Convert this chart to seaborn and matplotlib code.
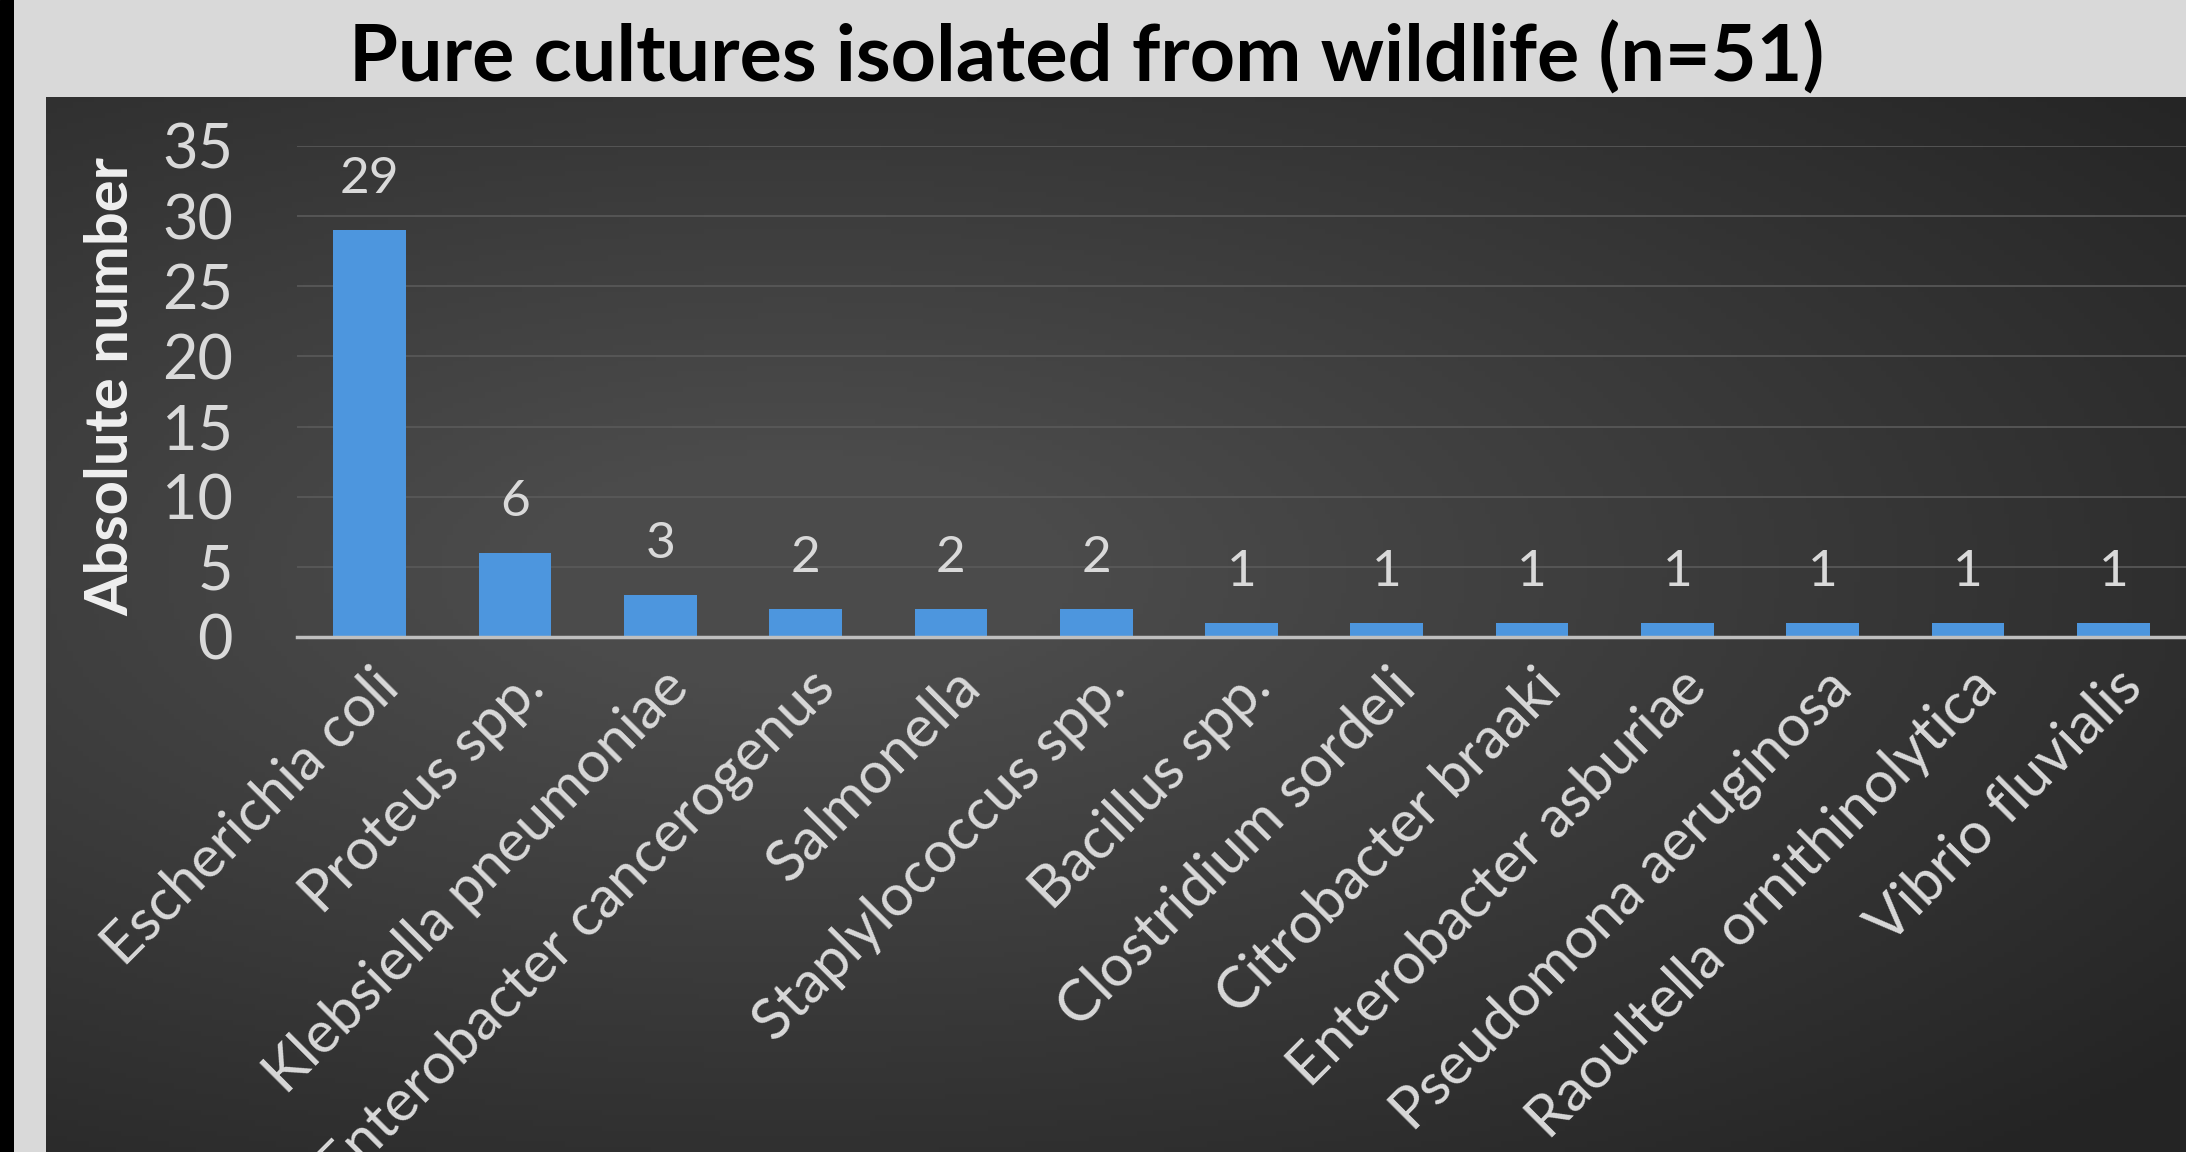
import numpy as np
import pandas as pd
import matplotlib
matplotlib.use("Agg")
import matplotlib.pyplot as plt
import matplotlib.transforms as mtransforms
from matplotlib.colors import LinearSegmentedColormap
import seaborn as sns

species = [
    "Escherichia coli", "Proteus spp.", "Klebsiella pneumoniae",
    "Enterobacter cancerogenus", "Salmonella", "Staplylococcus spp.",
    "Bacillus spp.", "Clostridium sordeli", "Citrobacter braaki",
    "Enterobacter asburiae", "Pseudomona aeruginosa",
    "Raoultella ornithinolytica", "Vibrio fluvialis",
]
counts = [29, 6, 3, 2, 2, 2, 1, 1, 1, 1, 1, 1, 1]
y_ticks = [0, 5, 10, 15, 20, 25, 30, 35]

df = pd.DataFrame({"species": species, "count": counts})

sns.set_theme(style="dark")
plt.rcParams["font.family"] = ["Lato", "DejaVu Sans"]

W, H = 2186, 1152
fig = plt.figure(figsize=(W / 100, H / 100), dpi=100, facecolor="#d9d9d9")

# black strip on the far left
strip = fig.add_axes([0, 0, 14 / W, 1])
strip.set_axis_off()
strip.add_patch(plt.Rectangle((0, 0), 1, 1, color="black", transform=strip.transAxes))

# dark panel with soft radial gradient
px0, py1 = 46 / W, 97 / H
bg = fig.add_axes([px0, 0, 1 - px0, 1 - py1])
gx, gy = np.meshgrid(np.linspace(0, 1, 400), np.linspace(0, 1, 200))
r = np.sqrt(((gx - 0.35) / 0.85) ** 2 + ((gy - 0.45) / 0.75) ** 2)
shade = np.clip(1 - r, 0, 1)
cmap = LinearSegmentedColormap.from_list("panel", ["#242424", "#4b4b4b"])
bg.imshow(shade, cmap=cmap, aspect="auto", extent=[0, 1, 0, 1], origin="upper", vmin=0, vmax=0.85)
bg.set_axis_off()

ax = fig.add_axes([297 / W, 1 - 637 / H, 1 - 297 / W, (637 - 146) / H])
ax.patch.set_alpha(0)
sns.barplot(data=df, x="species", y="count", color="#4d96de", width=0.5,
            saturation=1, linewidth=0, ax=ax, zorder=3)
ax.set_xlim(-0.5, len(species) - 0.5)
ax.set_ylim(0, 35)
ax.set_yticks(y_ticks)

for s in ["top", "right", "left"]:
    ax.spines[s].set_visible(False)
ax.spines["bottom"].set_color("#bfbfbf")
ax.spines["bottom"].set_linewidth(2.5)
ax.spines["bottom"].set_zorder(4)

ax.grid(axis="y", color="#5a5a5a", linewidth=1.2, zorder=0)
ax.grid(axis="x", visible=False)

ax.tick_params(axis="y", length=0, pad=46, labelsize=44, labelcolor="#d9d9d9")
ax.tick_params(axis="x", length=0, pad=30, labelsize=42, labelcolor="#d9d9d9")

offset = mtransforms.ScaledTranslation(0.2, 0, fig.dpi_scale_trans)
for lab in ax.get_xticklabels():
    lab.set_rotation(45)
    lab.set_ha("right")
    lab.set_va("center")
    lab.set_rotation_mode("anchor")
    lab.set_transform(lab.get_transform() + offset)

ax.bar_label(ax.containers[0], padding=20, fontsize=37, color="#d9d9d9")

ax.set_xlabel("")
ax.set_ylabel("Absolute number", fontsize=43, fontweight="bold", color="#f0f0f0")
ax.yaxis.label.set_va("center")
ax.yaxis.set_label_coords(-0.0985, 0.51)

fig.text(1087 / W, 1 - 58 / H, "Pure cultures isolated from wildlife (n=51)",
         ha="center", va="center", fontsize=57, fontweight="bold", color="black")

fig.savefig("out.png", dpi=100, facecolor=fig.get_facecolor())
